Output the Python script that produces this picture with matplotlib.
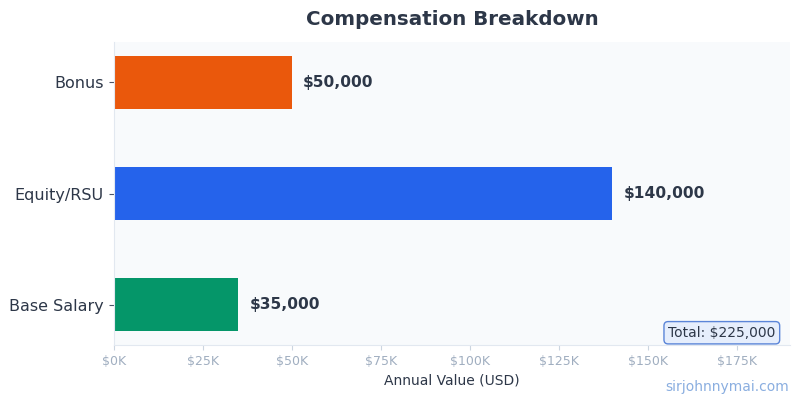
import matplotlib
import matplotlib.pyplot as plt

matplotlib.use("Agg")
plt.rcParams['font.family'] = ['DejaVu Sans']

categories = ["Base Salary", "Equity/RSU", "Bonus"]
values = [35000, 140000, 50000]
colors = ["#059669", "#2563eb", "#ea580c"]
xticks = [0, 25000, 50000, 75000, 100000, 125000, 150000, 175000]

fig, ax = plt.subplots(figsize=(8, 4), dpi=100)
fig.subplots_adjust(left=0.142, right=0.988, top=0.895, bottom=0.137)
ax.set_facecolor("#f8fafc")

ax.barh(categories, values, height=0.48, color=colors)

for i, v in enumerate(values):
  ax.text(v + 3200, i, "${:,}".format(v), va="center", ha="left",
          fontsize=11.2, fontweight="bold", color="#2d3748")

ax.set_xlim(0, 190000)
ax.set_xticks(xticks)
ax.set_xticklabels(["$%dK" % (t // 1000) for t in xticks])
ax.tick_params(axis="x", labelsize=9, labelcolor="#a0aec0", color="#cbd5e0")
ax.tick_params(axis="y", labelsize=11.5, labelcolor="#2d3748", color="#4a5568")

for s in ("top", "right"):
  ax.spines[s].set_visible(False)
for s in ("left", "bottom"):
  ax.spines[s].set_color("#e2e8f0")

ax.set_xlabel("Annual Value (USD)", fontsize=10, color="#2d3748")
ax.set_title("Compensation Breakdown", fontsize=14.3, fontweight="bold",
             color="#2d3748", pad=12)

ax.text(0.978, 0.018, "Total: ${:,}".format(sum(values)), transform=ax.transAxes,
        ha="right", va="bottom", fontsize=10, color="#2d3748",
        bbox=dict(boxstyle="round,pad=0.3", facecolor="#e6eefc", edgecolor="#5b85d8"))

fig.text(0.986, 0.015, "sirjohnnymai.com", ha="right", va="bottom",
         fontsize=10, color="#8aaee0")

plt.savefig("out.png")
